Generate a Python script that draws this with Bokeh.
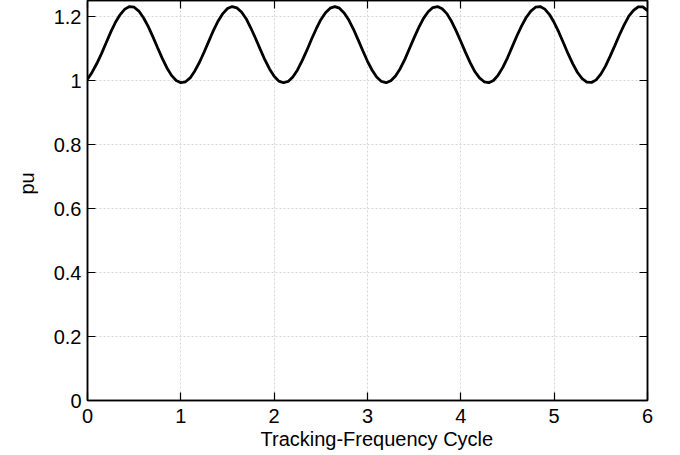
from bokeh.plotting import figure
from bokeh.models import FixedTicker, LinearAxis, Title, Range1d
from bokeh.embed import file_html
from bokeh.resources import INLINE

cycle = [0.00, 0.05, 0.10, 0.15, 0.20, 0.25, 0.30, 0.35, 0.40, 0.45,
         0.50, 0.55, 0.60, 0.65, 0.70, 0.75, 0.80, 0.85, 0.90, 0.95,
         1.00, 1.05, 1.10, 1.15, 1.20, 1.25, 1.30, 1.35, 1.40, 1.45,
         1.50, 1.55, 1.60, 1.65, 1.70, 1.75, 1.80, 1.85, 1.90, 1.95,
         2.00, 2.05, 2.10, 2.15, 2.20, 2.25, 2.30, 2.35, 2.40, 2.45,
         2.50, 2.55, 2.60, 2.65, 2.70, 2.75, 2.80, 2.85, 2.90, 2.95,
         3.00, 3.05, 3.10, 3.15, 3.20, 3.25, 3.30, 3.35, 3.40, 3.45,
         3.50, 3.55, 3.60, 3.65, 3.70, 3.75, 3.80, 3.85, 3.90, 3.95,
         4.00, 4.05, 4.10, 4.15, 4.20, 4.25, 4.30, 4.35, 4.40, 4.45,
         4.50, 4.55, 4.60, 4.65, 4.70, 4.75, 4.80, 4.85, 4.90, 4.95,
         5.00, 5.05, 5.10, 5.15, 5.20, 5.25, 5.30, 5.35, 5.40, 5.45,
         5.50, 5.55, 5.60, 5.65, 5.70, 5.75, 5.80, 5.85, 5.90, 5.95,
         6.00]

pu = [1.004, 1.026, 1.053, 1.084, 1.118, 1.152, 1.182, 1.206, 1.223, 1.231,
      1.229, 1.217, 1.196, 1.169, 1.137, 1.103, 1.070, 1.040, 1.016, 1.000,
      0.993, 0.996, 1.008, 1.030, 1.057, 1.089, 1.123, 1.157, 1.186, 1.209,
      1.225, 1.231, 1.227, 1.214, 1.193, 1.164, 1.132, 1.098, 1.065, 1.036,
      1.013, 0.998, 0.993, 0.997, 1.011, 1.033, 1.062, 1.094, 1.129, 1.161,
      1.190, 1.212, 1.226, 1.231, 1.226, 1.211, 1.189, 1.160, 1.127, 1.093,
      1.060, 1.032, 1.010, 0.997, 0.993, 0.999, 1.014, 1.037, 1.066, 1.100,
      1.134, 1.166, 1.194, 1.215, 1.228, 1.231, 1.224, 1.209, 1.185, 1.155,
      1.122, 1.088, 1.056, 1.028, 1.008, 0.996, 0.993, 1.000, 1.017, 1.041,
      1.071, 1.105, 1.139, 1.170, 1.197, 1.217, 1.229, 1.231, 1.223, 1.206,
      1.181, 1.151, 1.117, 1.083, 1.052, 1.025, 1.006, 0.995, 0.994, 1.002,
      1.020, 1.045, 1.076, 1.109, 1.143, 1.174, 1.201, 1.219, 1.230, 1.230,
      1.218]

x_ticks = [0, 1, 2, 3, 4, 5, 6]
x_tick_labels = ["0", "1", "2", "3", "4", "5", "6"]
y_ticks = [0, 0.2, 0.4, 0.6, 0.8, 1.0, 1.2]
y_tick_labels = ["0", "0.2", "0.4", "0.6", "0.8", "1", "1.2"]

x_title = "Tracking-Frequency Cycle"
y_title = "pu"

FONT = "Liberation Sans"
FS = "20px"

p = figure(width=680, height=455, output_backend="svg", toolbar_location=None,
           x_range=Range1d(0, 6), y_range=Range1d(0, 1.25),
           x_axis_location=None, y_axis_location=None,
           min_border_left=87, min_border_right=33, min_border_top=0,
           min_border_bottom=55)
p.outline_line_color = "black"
p.outline_line_width = 1.5
p.background_fill_color = "white"
p.border_fill_color = "white"

def make_axis(ticks, labels, show_labels, standoff=6):
    ax = LinearAxis(ticker=FixedTicker(ticks=ticks))
    ax.major_label_overrides = {t: (l if show_labels else "") for t, l in zip(ticks, labels)}
    ax.major_tick_in = 8
    ax.major_tick_out = 0
    ax.minor_tick_in = 0
    ax.minor_tick_out = 0
    ax.major_tick_line_color = "black"
    ax.major_tick_line_width = 1.2
    ax.axis_line_color = "black"
    ax.axis_line_width = 1.5
    ax.major_label_text_font = FONT
    ax.major_label_text_color = "black"
    if show_labels:
        ax.major_label_text_font_size = FS
        ax.major_label_standoff = standoff
    else:
        ax.major_label_text_font_size = "0px"
        ax.major_label_standoff = 0
    return ax

p.add_layout(make_axis(x_ticks, x_tick_labels, True, standoff=8), "below")
p.add_layout(make_axis(y_ticks, y_tick_labels, True, standoff=6), "left")
p.add_layout(make_axis(x_ticks, x_tick_labels, False), "above")
p.add_layout(make_axis(y_ticks, y_tick_labels, False), "right")

p.xgrid.ticker = FixedTicker(ticks=x_ticks)
p.ygrid.ticker = FixedTicker(ticks=y_ticks)
for g in (p.xgrid, p.ygrid):
    g.grid_line_color = "#d6d6d6"
    g.grid_line_dash = "2 2"
    g.grid_line_width = 1

p.line(cycle, pu, line_color="black", line_width=2.8)

p.add_layout(Title(text=x_title, align="left", offset=173, standoff=0,
                   text_font=FONT, text_font_size=FS, text_font_style="normal",
                   text_color="black"), "below")
p.add_layout(Title(text=y_title, align="left", offset=206, standoff=26,
                   text_font=FONT, text_font_size=FS, text_font_style="normal",
                   text_color="black"), "left")

open("out.html", "w").write(file_html(p, INLINE))
